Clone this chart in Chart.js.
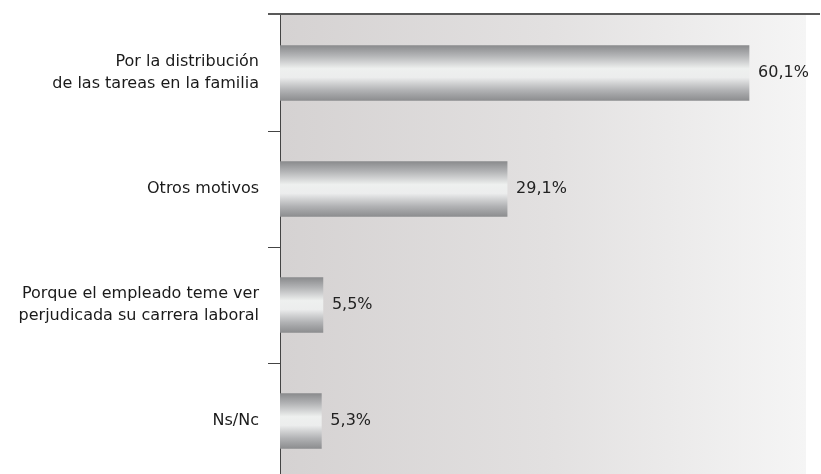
<!DOCTYPE html>
<html>
<head>
<meta charset="utf-8">
<script src="https://cdn.jsdelivr.net/npm/chart.js@4/dist/chart.umd.min.js"></script>
<style>
  html, body { margin: 0; padding: 0; background: #fff; overflow: hidden; }
  canvas { display: block; }
</style>
</head>
<body>
<canvas id="motivos" width="821" height="480"></canvas>
<script>
// ===== data =====
const categories = [
    ['Por la distribución', 'de las tareas en la familia'],
    'Otros motivos',
    ['Porque el empleado teme ver', 'perjudicada su carrera laboral'],
    'Ns/Nc'
];
const values = [60.1, 29.1, 5.5, 5.3];
const valueLabels = ['60,1%', '29,1%', '5,5%', '5,3%'];

const FONT = 'DejaVu Sans';
const BAR_H = 55;

// metallic gradient, per bar
function barFill(context) {
    const chart = context.chart;
    const y = chart.scales.y;
    if (!chart.chartArea || !y) return '#c8c9ca';
    const cy = y.getPixelForValue(context.dataIndex);
    const g = chart.ctx.createLinearGradient(0, cy - BAR_H / 2, 0, cy + BAR_H / 2);
    g.addColorStop(0, '#8a8b8d');
    g.addColorStop(0.18, '#b2b3b5');
    g.addColorStop(0.42, '#eef0ef');
    g.addColorStop(0.58, '#eceded');
    g.addColorStop(0.82, '#b0b1b3');
    g.addColorStop(1, '#8c8d8f');
    return g;
}

const backdrop = {
    id: 'backdrop',
    beforeDraw(chart) {
        const { ctx, chartArea: a } = chart;
        ctx.save();
        const g = ctx.createLinearGradient(a.left, 0, a.right, 0);
        g.addColorStop(0, '#d5d2d2');
        g.addColorStop(0.5, '#e2e0e0');
        g.addColorStop(1, '#f5f5f5');
        ctx.fillStyle = g;
        ctx.fillRect(a.left, a.top, a.right - a.left, a.bottom - a.top);
        ctx.restore();
    },
    afterDraw(chart) {
        // top rule
        const { ctx } = chart;
        ctx.save();
        ctx.strokeStyle = '#222';
        ctx.lineWidth = 1.5;
        ctx.beginPath();
        ctx.moveTo(268, 14);
        ctx.lineTo(820, 14);
        ctx.stroke();
        ctx.restore();
    }
};

const valueText = {
    id: 'valueText',
    afterDatasetsDraw(chart) {
        const { ctx } = chart;
        const meta = chart.getDatasetMeta(0);
        ctx.save();
        ctx.font = '16px "' + FONT + '"';
        ctx.fillStyle = '#222';
        ctx.textAlign = 'left';
        ctx.textBaseline = 'middle';
        meta.data.forEach((bar, i) => {
            ctx.fillText(valueLabels[i], bar.x + 9, bar.y);
        });
        ctx.restore();
    }
};

new Chart(document.getElementById('motivos'), {
    type: 'bar',
    data: {
        labels: categories,
        datasets: [{
            data: values,
            backgroundColor: barFill,
            borderWidth: 0,
            barThickness: BAR_H
        }]
    },
    options: {
        indexAxis: 'y',
        responsive: false,
        animation: false,
        layout: { padding: { top: 15, right: 15, bottom: 1, left: 0 } },
        scales: {
            x: { display: false, min: 0, max: 67.4 },
            y: {
                afterFit(scale) {
                    scale.width = 280;
                    scale.paddingTop = 0;
                    scale.paddingBottom = 0;
                },
                border: { display: true, color: '#444', width: 1 },
                grid: {
                    drawOnChartArea: false,
                    drawTicks: true,
                    tickLength: 12,
                    tickColor: (c) => c.index === 0 ? 'rgba(0,0,0,0)' : '#444',
                    offset: true
                },
                ticks: {
                    padding: 9,
                    color: '#1a1a1a',
                    font: { family: FONT, size: 16, lineHeight: 1.4 }
                }
            }
        },
        plugins: { legend: { display: false }, tooltip: { enabled: false } }
    },
    plugins: [backdrop, valueText]
});
</script>
</body>
</html>
